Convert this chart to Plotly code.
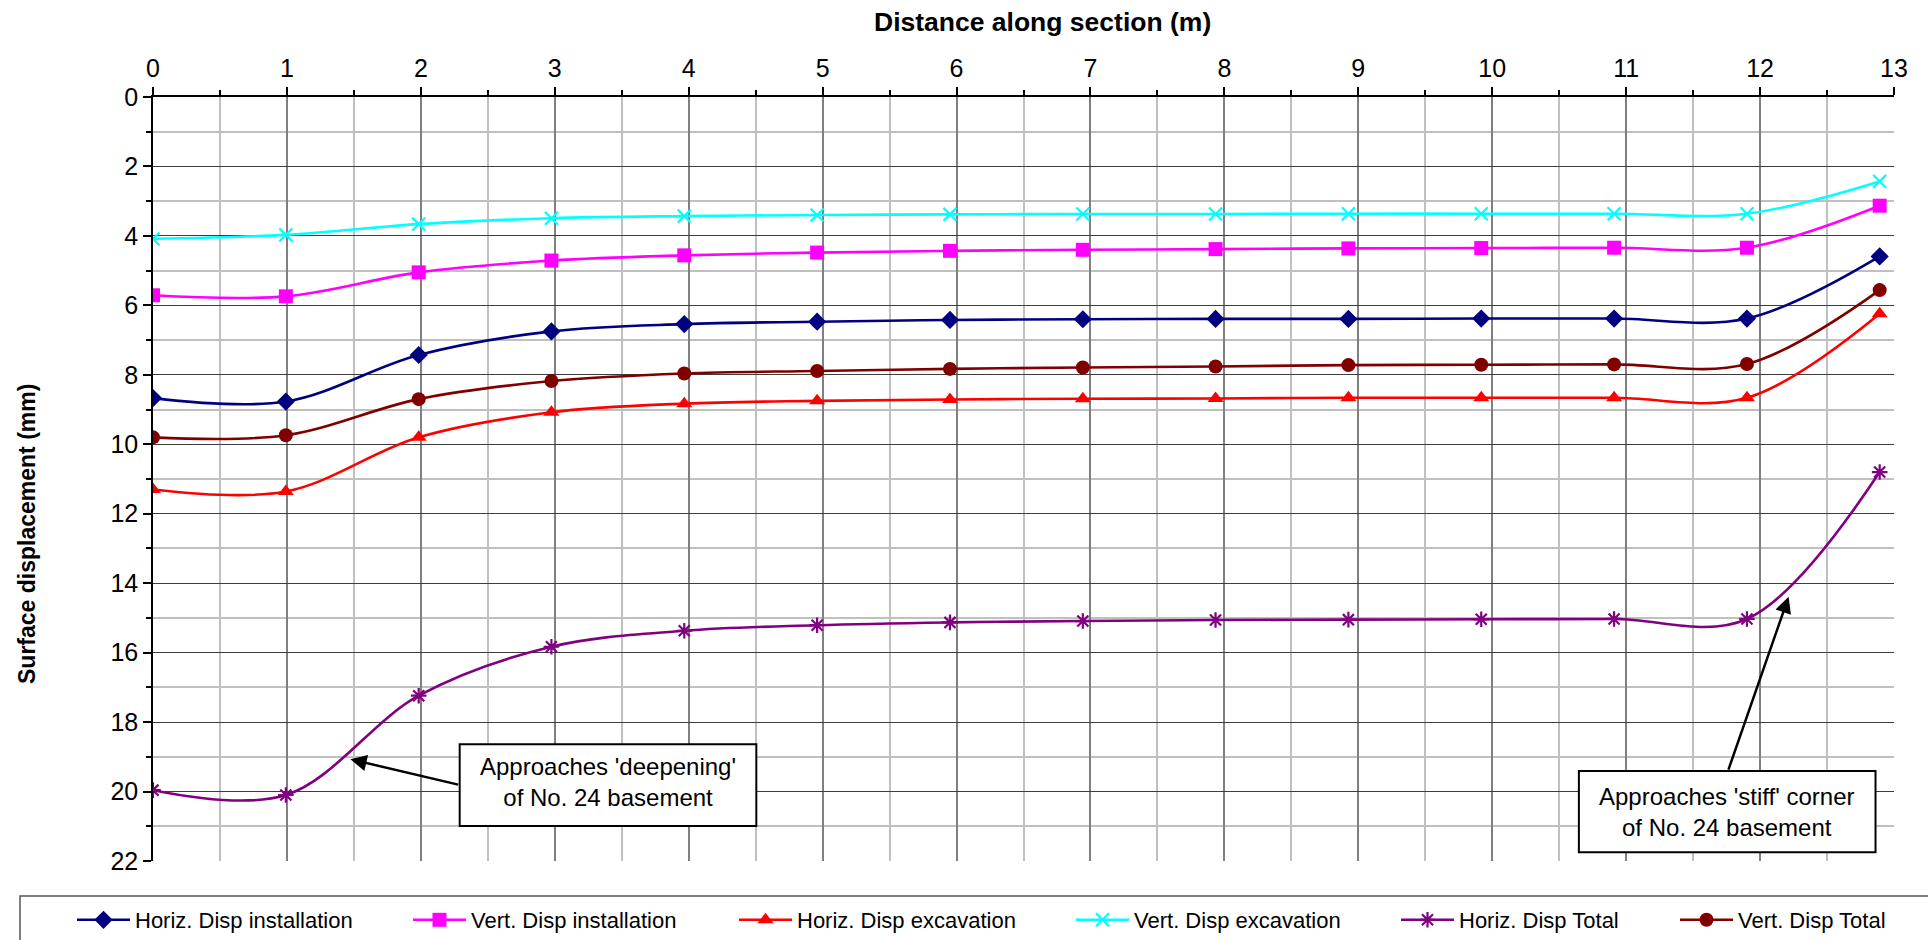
import plotly.graph_objects as go

# ---------------- data ----------------
distance = [0, 0.992, 1.984, 2.975, 3.967, 4.959, 5.951, 6.943, 7.934, 8.926, 9.918, 10.910, 11.902, 12.893]

horiz_install = [8.67, 8.77, 7.43, 6.75, 6.54, 6.47, 6.42, 6.40, 6.39, 6.39, 6.38, 6.38, 6.38, 4.59]
vert_install = [5.71, 5.74, 5.05, 4.71, 4.56, 4.48, 4.43, 4.40, 4.38, 4.36, 4.35, 4.34, 4.34, 3.13]
horiz_excav = [11.30, 11.36, 9.80, 9.08, 8.83, 8.75, 8.71, 8.69, 8.68, 8.66, 8.66, 8.66, 8.66, 6.24]
vert_excav = [4.08, 3.97, 3.66, 3.49, 3.43, 3.40, 3.38, 3.37, 3.37, 3.36, 3.36, 3.36, 3.36, 2.43]
horiz_total = [19.96, 20.10, 17.24, 15.83, 15.37, 15.21, 15.13, 15.09, 15.06, 15.05, 15.04, 15.03, 15.03, 10.80]
vert_total = [9.80, 9.74, 8.70, 8.18, 7.96, 7.89, 7.83, 7.79, 7.76, 7.72, 7.71, 7.70, 7.69, 5.56]

series_names = ["Horiz. Disp installation", "Vert. Disp installation", "Horiz. Disp excavation",
                "Vert. Disp excavation", "Horiz. Disp Total", "Vert. Disp Total"]
series_values = [horiz_install, vert_install, horiz_excav, vert_excav, horiz_total, vert_total]

x_title = "Distance along section (m)"
y_title = "Surface displacement (mm)"
note_deepening = "Approaches 'deepening'<br>of No. 24 basement"
note_stiff = "Approaches 'stiff' corner<br>of No. 24 basement"

# ---------------- styles ----------------
FONT = "Arial, Liberation Sans, sans-serif"
colors = ["#000080", "#FF00FF", "#FF0000", "#00FFFF", "#800080", "#800000"]
symbols = ["diamond", "square", "triangle-up", "x-thin-open", "asterisk-open", "circle"]
msizes = [14, 14, 14, 13, 13, 14]

W, H = 1928, 940
ML, MR, MT, MB = 153, 34, 97, 79
PW, PH = W - ML - MR, H - MT - MB


def px_x(px):
    return (px - ML) / PW


def px_y(py):
    return (H - MB - py) / PH


fig = go.Figure()

legend_text_starts = [135, 471, 797, 1134, 1459, 1738]
ITEMW = 53
for i, (name, vals) in enumerate(zip(series_names, series_values)):
    lg = "legend" if i == 0 else f"legend{i + 1}"
    open_sym = symbols[i].endswith("open")
    fig.add_trace(go.Scatter(
        x=distance, y=vals, name=name, mode="lines+markers",
        line=dict(color=colors[i], width=2.6, shape="spline", smoothing=1.0),
        marker=dict(symbol=symbols[i], size=msizes[i], color=colors[i],
                    line=dict(color=colors[i], width=2.2 if open_sym else 0)),
        legend=lg,
    ))

legend_layout = {}
for i, ts in enumerate(legend_text_starts):
    key = "legend" if i == 0 else f"legend{i + 1}"
    left = ts - ITEMW - 10
    legend_layout[key] = dict(
        x=px_x(left), xanchor="left", y=px_y(920), yanchor="middle",
        orientation="h", bgcolor="rgba(0,0,0,0)", borderwidth=0,
        font=dict(family=FONT, size=22, color="black"), itemwidth=ITEMW,
    )

fig.update_layout(
    width=W, height=H,
    margin=dict(l=ML, r=MR, t=MT, b=MB, autoexpand=False),
    paper_bgcolor="white", plot_bgcolor="white",
    font=dict(family=FONT, color="black"),
    showlegend=True,
    **legend_layout,
)

fig.update_xaxes(
    side="top", range=[0, 13], tick0=0, dtick=1,
    ticks="outside", ticklen=8, tickwidth=1.5, tickcolor="black",
    showline=True, linecolor="black", linewidth=1.5,
    showgrid=True, gridcolor="#808080", gridwidth=1.5,
    zeroline=False,
    tickfont=dict(family=FONT, size=25, color="black"),
    minor=dict(dtick=0.5, tick0=0, ticks="outside", ticklen=5, tickcolor="black",
               showgrid=True, gridcolor="#c0c0c0", gridwidth=1.5),
)
fig.update_yaxes(
    range=[22, 0], tick0=0, dtick=2,
    ticks="outside", ticklen=8, tickwidth=1.5, tickcolor="black",
    showline=True, linecolor="black", linewidth=1.5,
    showgrid=True, gridcolor="#3d3d3d", gridwidth=1,
    zeroline=False,
    tickfont=dict(family=FONT, size=25, color="black"),
    minor=dict(dtick=1, tick0=0, ticks="outside", ticklen=5, tickcolor="black",
               showgrid=True, gridcolor="#c0c0c0", gridwidth=2),
)

# axis titles
fig.add_annotation(x=px_x(1042), y=px_y(22), xref="paper", yref="paper",
                   text=f"<b>{x_title}</b>", showarrow=False,
                   font=dict(family=FONT, size=26.5, color="black"),
                   xanchor="center", yanchor="middle")
fig.add_annotation(x=px_x(27), y=px_y(534), xref="paper", yref="paper",
                   text=f"<b>{y_title}</b>", showarrow=False, textangle=-90,
                   font=dict(family=FONT, size=23, color="black"),
                   xanchor="center", yanchor="middle")

# legend frame
fig.add_shape(type="rect", xref="paper", yref="paper",
              x0=px_x(20), x1=px_x(1960), y0=px_y(896), y1=px_y(960),
              line=dict(color="#555555", width=1.5), fillcolor="rgba(0,0,0,0)", layer="above")

# annotation boxes
fig.add_shape(type="rect", xref="x", yref="y", x0=2.29, x1=4.505, y0=18.64, y1=20.99,
              line=dict(color="black", width=2), fillcolor="white", layer="above")
fig.add_shape(type="rect", xref="x", yref="y", x0=10.647, x1=12.862, y0=19.41, y1=21.75,
              line=dict(color="black", width=2), fillcolor="white", layer="above")

ann_font = dict(family=FONT, size=24, color="black")
fig.add_annotation(x=3.397, y=19.73, xref="x", yref="y", text=note_deepening, showarrow=False,
                   font=ann_font, xanchor="center", yanchor="middle", align="center")
fig.add_annotation(x=11.75, y=20.6, xref="x", yref="y", text=note_stiff, showarrow=False,
                   font=ann_font, xanchor="center", yanchor="middle", align="center")

# arrows
fig.add_annotation(x=1.474, y=19.07, ax=2.29, ay=19.81, xref="x", yref="y", axref="x", ayref="y",
                   text="", showarrow=True, arrowhead=2, arrowsize=1.3, arrowwidth=2.5, arrowcolor="black")
fig.add_annotation(x=12.213, y=14.39, ax=11.76, ay=19.41, xref="x", yref="y", axref="x", ayref="y",
                   text="", showarrow=True, arrowhead=2, arrowsize=1.3, arrowwidth=2.5, arrowcolor="black")

fig.write_html("out.html")
